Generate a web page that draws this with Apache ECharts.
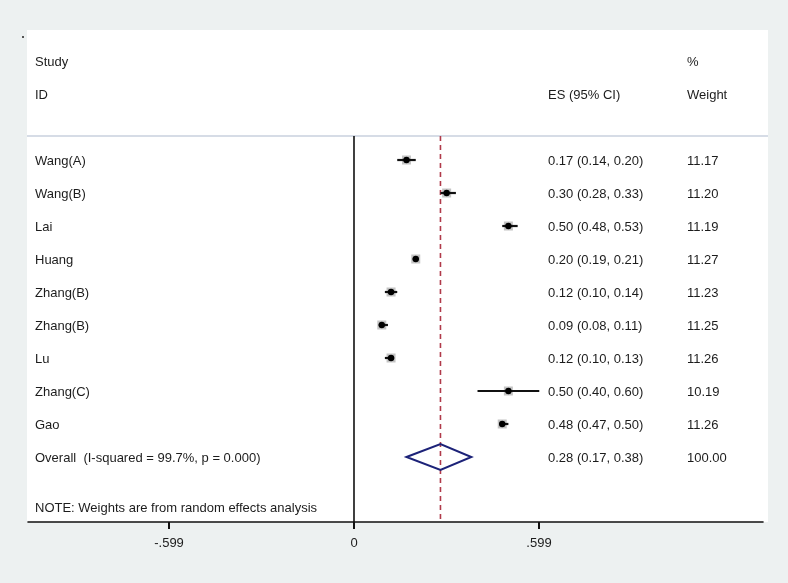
<!DOCTYPE html>
<html><head><meta charset="utf-8">
<script src="https://cdn.jsdelivr.net/npm/echarts@6/dist/echarts.min.js"></script>
<style>html,body{margin:0;padding:0;background:#edf1f1;}#c{width:788px;height:583px;}</style>
</head><body><div id="c"></div>
<script>
const studies = ['Wang(A)','Wang(B)','Lai','Huang','Zhang(B)','Zhang(B)','Lu','Zhang(C)','Gao'];
const es = [0.17,0.30,0.50,0.20,0.12,0.09,0.12,0.50,0.48];
const lo = [0.14,0.28,0.48,0.19,0.10,0.08,0.10,0.40,0.47];
const hi = [0.20,0.33,0.53,0.21,0.14,0.11,0.13,0.60,0.50];
const weights = ['11.17','11.20','11.19','11.27','11.23','11.25','11.26','10.19','11.26'];
const overallLabel = 'Overall  (I-squared = 99.7%, p = 0.000)';
const overall = {es:0.28, lo:0.17, hi:0.38, weight:'100.00'};
const tickValues = [-0.599, 0, 0.599];
const tickLabels = ['-.599', '0', '.599'];
const note = 'NOTE: Weights are from random effects analysis';

const FONT = '"Liberation Sans", Arial, sans-serif';
const TXT = '#1c1c1c';
const rowsText = [];
rowsText.push({i:-3, a:'Study', b:'', c:'%'});
rowsText.push({i:-2, a:'ID', b:'ES (95% CI)', c:'Weight'});
studies.forEach((s,k)=>{
  rowsText.push({i:k, a:s, b:es[k].toFixed(2)+' ('+lo[k].toFixed(2)+', '+hi[k].toFixed(2)+')', c:weights[k]});
});
rowsText.push({i:studies.length, a:overallLabel, b:overall.es.toFixed(2)+' ('+overall.lo.toFixed(2)+', '+overall.hi.toFixed(2)+')', c:overall.weight});
rowsText.push({i:studies.length+1.5, a:note, b:'', c:''});

const chart = echarts.init(document.getElementById('c'));
const xMin = -1.0557, xMax = 1.3245;
const yMin = -3.94, yMax = 10.97;
const headerY = -0.727;

chart.setOption({
  backgroundColor:'#edf1f1',
  animation:false,
  graphic:[
    {type:'rect', z:-100, shape:{x:27,y:30,width:741,height:492}, style:{fill:'#ffffff'}},
    {type:'line', z:-50, shape:{x1:27,y1:136,x2:768,y2:136}, style:{stroke:'#c8d0de', lineWidth:1.5}},
    {type:'rect', z:-50, shape:{x:22,y:36,width:2,height:2}, style:{fill:'#555'}}
  ],
  grid:{left:28, right:25, top:30, bottom:61},
  xAxis:{
    type:'value', min:xMin, max:xMax, splitLine:{show:false},
    axisLine:{show:true, onZero:false, lineStyle:{color:'#111', width:1.6}},
    axisTick:{show:true, length:7, customValues:tickValues, lineStyle:{color:'#111', width:2}},
    axisLabel:{show:true, customValues:tickValues, margin:15, color:TXT, fontSize:13, fontFamily:FONT,
      formatter:(v)=>{const k=tickValues.findIndex(t=>Math.abs(t-v)<1e-6); return k>=0?tickLabels[k]:'';}}
  },
  yAxis:{type:'value', inverse:true, min:yMin, max:yMax, show:false},
  series:[
    {
      type:'custom', name:'refs',
      data:[[0]],
      renderItem:(params, api)=>{
        const z0 = api.coord([0, headerY]);
        const z1 = api.coord([0, yMax]);
        const d0 = api.coord([overall.es, headerY]);
        const d1 = api.coord([overall.es, yMax]);
        return {type:'group', children:[
          {type:'line', shape:{x1:z0[0],y1:z0[1],x2:z1[0],y2:z1[1]}, style:{stroke:'#111', lineWidth:1.6}},
          {type:'line', shape:{x1:d0[0],y1:d0[1],x2:d1[0],y2:d1[1]}, style:{stroke:'#b03a4a', lineWidth:1.6, lineDash:[5,4]}}
        ]};
      }
    },
    {
      type:'custom', name:'studies',
      data: studies.map((s,k)=>[es[k], k, lo[k], hi[k]]),
      renderItem:(params, api)=>{
        const i = api.value(1);
        const c = api.coord([api.value(0), i]);
        const l = api.coord([api.value(2), i]);
        const h = api.coord([api.value(3), i]);
        const bs = 9;
        return {type:'group', children:[
          {type:'rect', shape:{x:c[0]-bs/2, y:c[1]-bs/2, width:bs, height:bs}, style:{fill:'#c4c4c4'}},
          {type:'line', shape:{x1:l[0],y1:l[1],x2:h[0],y2:h[1]}, style:{stroke:'#111', lineWidth:2.2}},
          {type:'circle', shape:{cx:c[0], cy:c[1], r:3.2}, style:{fill:'#000'}}
        ]};
      }
    },
    {
      type:'custom', name:'overall',
      data:[[overall.es, studies.length, overall.lo, overall.hi]],
      renderItem:(params, api)=>{
        const i = api.value(1);
        const c = api.coord([api.value(0), i]);
        const l = api.coord([api.value(2), i]);
        const h = api.coord([api.value(3), i]);
        const hh = 13;
        return {type:'polygon', shape:{points:[[l[0],c[1]],[c[0],c[1]-hh],[h[0],c[1]],[c[0],c[1]+hh]]},
          style:{fill:'none', stroke:'#1c2278', lineWidth:2}};
      }
    },
    {
      type:'custom', name:'texts',
      data: rowsText.map(r=>[0, r.i]),
      renderItem:(params, api)=>{
        const r = rowsText[params.dataIndex];
        const y = api.coord([0, api.value(1)])[1] + 1.5;
        const x0 = params.coordSys.x;
        const st = (t,x)=>({type:'text', style:{text:t, x:x, y:y, fill:TXT, font:'13px '+FONT, textVerticalAlign:'middle', textAlign:'left'}});
        return {type:'group', children:[st(r.a, x0+7), st(r.b, x0+520), st(r.c, x0+659)]};
      }
    }
  ]
});
</script></body></html>
